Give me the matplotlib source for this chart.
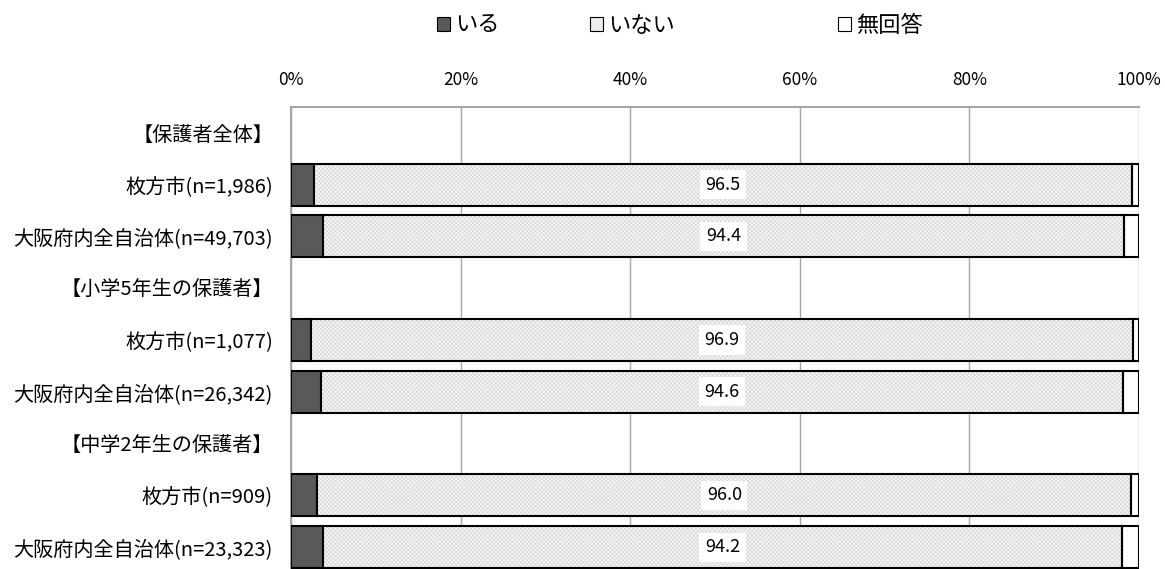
import numpy as np
import matplotlib.pyplot as plt
from matplotlib.patches import Patch

plt.rcParams['font.family'] = ['Noto Sans CJK JP', 'DejaVu Sans']
plt.rcParams['hatch.linewidth'] = 0.5
plt.rcParams['hatch.color'] = '#d6d6d6'

# DATA
labels = ['【保護者全体】', '枚方市(n=1,986)', '大阪府内全自治体(n=49,703)',
          '【小学5年生の保護者】', '枚方市(n=1,077)', '大阪府内全自治体(n=26,342)',
          '【中学2年生の保護者】', '枚方市(n=909)', '大阪府内全自治体(n=23,323)']
iru = [np.nan, 2.7, 3.8, np.nan, 2.4, 3.5, np.nan, 3.1, 3.8]
inai = [np.nan, 96.5, 94.4, np.nan, 96.9, 94.6, np.nan, 96.0, 94.2]
mukaito = [np.nan, 0.8, 1.8, np.nan, 0.7, 1.9, np.nan, 0.9, 2.0]
series_names = ['いる', 'いない', '無回答']

fig = plt.figure(figsize=(11.65, 5.69), dpi=100)
ax = fig.add_axes([291/1165, -4/569, 848/1165, 466/569])

y = np.arange(len(labels))
h = 0.81
iru_a = np.array(iru)
inai_a = np.array(inai)
muk_a = np.array(mukaito)

ax.barh(y, iru_a, height=h, color='#595959', edgecolor='black', lw=1.5, zorder=3)
ax.barh(y, inai_a, left=iru_a, height=h, color='#f7f7f7', edgecolor='#d6d6d6',
        lw=0, hatch='xxxxxxxx', zorder=3)
ax.barh(y, inai_a, left=iru_a, height=h, color='none', edgecolor='black', lw=1.5, zorder=4)
ax.barh(y, muk_a, left=iru_a + inai_a, height=h, color='white', edgecolor='black',
        lw=1.5, zorder=3)

for yi, a, b in zip(y, iru_a, inai_a):
    if np.isnan(b):
        continue
    ax.text(a + b / 2, yi, f'{b:.1f}', ha='center', va='center', fontsize=13,
            zorder=5, bbox=dict(facecolor='white', edgecolor='none', pad=4))

ax.set_xlim(0, 100)
ax.set_ylim(len(labels) - 0.5, -0.5)
ax.set_yticks(y)
ax.set_yticklabels(labels, fontsize=14.5)
ax.tick_params(axis='y', length=0, pad=13)
ax.xaxis.tick_top()
ax.set_xticks(np.arange(0, 101, 20))
ax.set_xticklabels([f'{v}%' for v in range(0, 101, 20)], fontsize=12.5)
ax.tick_params(axis='x', length=0, pad=13)
ax.grid(axis='x', color='#a6a6a6', lw=1, zorder=0)
for s in ['bottom', 'right']:
    ax.spines[s].set_visible(False)
for s in ['top', 'left']:
    ax.spines[s].set_color('#a6a6a6')
    ax.spines[s].set_linewidth(1.5)

handles = [Patch(facecolor='#595959', edgecolor='black', lw=0.8),
           Patch(facecolor='#ececec', edgecolor='black', lw=0.8),
           Patch(facecolor='white', edgecolor='black', lw=0.8)]
legend_x = [437, 590, 838]
for hd, name, lx in zip(handles, series_names, legend_x):
    fig.legend([hd], [name], loc='center left', bbox_to_anchor=(lx/1165, 1 - 25/569),
               frameon=False, fontsize=16, handlelength=0.6, handleheight=0.6,
               handletextpad=0.2, borderpad=0, borderaxespad=0)

fig.savefig('out.png', dpi=100)
